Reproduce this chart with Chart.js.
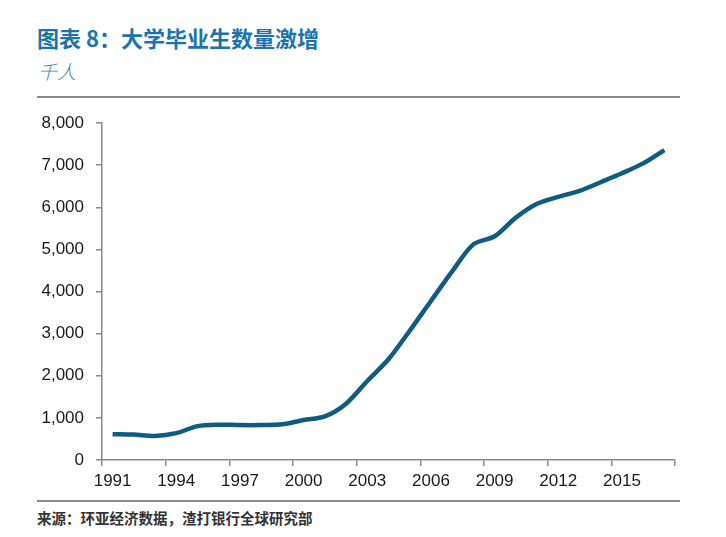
<!DOCTYPE html>
<html>
<head>
<meta charset="utf-8">
<script src="https://cdn.jsdelivr.net/npm/chart.js@4.4.1/dist/chart.umd.min.js"></script>
<style>
  body { margin: 0; background: #fff; width: 726px; height: 537px; position: relative; overflow: hidden; }
  .title { position: absolute; left: 37px; top: 22px; font-family: "Noto Sans CJK SC", sans-serif; font-weight: bold; font-size: 22px; color: #1a74ae; line-height: 30px; }
  .unit { position: absolute; left: 38px; top: 58px; font-family: "Noto Sans CJK SC", sans-serif; font-style: italic; font-weight: 300; font-size: 19px; color: #4a80ae; line-height: 26px; }
  .rule { position: absolute; left: 37px; width: 643px; height: 2px; background: #8a8a8a; }
  .source { position: absolute; left: 37px; top: 507px; font-family: "Noto Sans CJK SC", sans-serif; font-weight: bold; font-size: 14.5px; color: #333; line-height: 22px; }
  #chart { position: absolute; left: 0; top: 100px; }
</style>
</head>
<body>
<div class="title">图表 8：大学毕业生数量激增</div>
<div class="unit">千人</div>
<div class="rule" style="top:96px"></div>
<div class="rule" style="top:500px"></div>
<div class="source">来源：环亚经济数据，渣打银行全球研究部</div>
<canvas id="chart" width="726" height="400"></canvas>
<script>
// 年份
const years = ['1991','1992','1993','1994','1995','1996','1997','1998','1999','2000',
  '2001','2002','2003','2004','2005','2006','2007','2008','2009','2010',
  '2011','2012','2013','2014','2015','2016','2017'];

// 毕业生人数（千人）
const graduates = [614, 604, 571, 637, 805, 839, 829, 830, 848, 950,
  1036, 1337, 1877, 2391, 3068, 3775, 4478, 5119, 5311, 5754,
  6082, 6247, 6387, 6594, 6806, 7041, 7358];

const axisColor = '#8a8a8a';
const tickFont = { family: 'Liberation Sans, Arial, sans-serif', size: 17 };

new Chart(document.getElementById('chart'), {
    type: 'line',
    data: {
        labels: years,
        datasets: [{
            data: graduates,
            borderColor: '#0f5c80',
            borderWidth: 4.5,
            pointRadius: 0,
            tension: 0.3,
            fill: false
        }]
    },
    options: {
        responsive: false,
        animation: false,
        layout: { padding: { left: 0, top: 23, right: 51, bottom: 0 } },
        plugins: { legend: { display: false }, tooltip: { enabled: false } },
        scales: {
            x: {
                offset: true,
                grid: {
                    offset: true,
                    drawOnChartArea: false,
                    drawTicks: true,
                    tickLength: 6,
                    lineWidth: 1.5,
                    // 每三年一个刻度
                    color: ctx => (ctx.index === undefined || ctx.index % 3 === 0) ? axisColor : 'rgba(0,0,0,0)'
                },
                border: { color: axisColor, width: 1.5 },
                ticks: {
                    autoSkip: false,
                    maxRotation: 0,
                    padding: 5,
                    color: '#1a1a1a',
                    font: tickFont,
                    callback: (v, i) => i % 3 === 0 ? years[i] : ''
                },
                afterFit: s => { s.height = 40; }
            },
            y: {
                min: 0,
                max: 8000,
                grid: { drawOnChartArea: false, drawTicks: true, tickLength: 6, color: axisColor, lineWidth: 1.5 },
                border: { color: axisColor, width: 1.5 },
                ticks: {
                    stepSize: 1000,
                    padding: 12,
                    color: '#1a1a1a',
                    font: tickFont,
                    callback: v => v.toLocaleString('en-US')
                },
                afterFit: s => { s.width = 102; }
            }
        }
    }
});
</script>
</body>
</html>
